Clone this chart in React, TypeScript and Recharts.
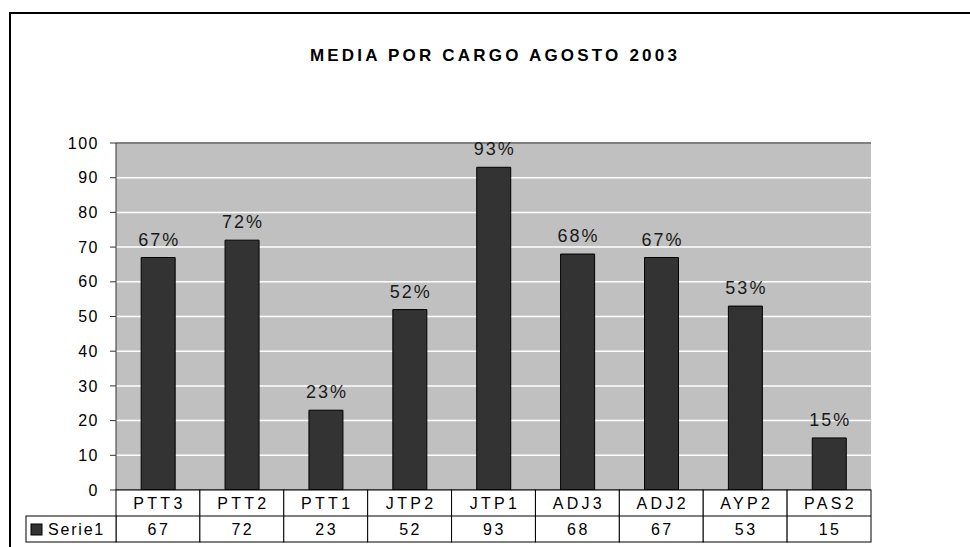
import {
  BarChart, Bar, XAxis, YAxis, CartesianGrid, LabelList, ReferenceLine,
} from 'recharts';

const categories = ['PTT3', 'PTT2', 'PTT1', 'JTP2', 'JTP1', 'ADJ3', 'ADJ2', 'AYP2', 'PAS2'];
const serie1 = [67, 72, 23, 52, 93, 68, 67, 53, 15];
const yTicks = [0, 10, 20, 30, 40, 50, 60, 70, 80, 90, 100];
const seriesName = 'Serie1';
const title = 'MEDIA POR CARGO AGOSTO 2003';

const W = 970;
const H = 547;
const PLOT_LEFT = 116;
const PLOT_RIGHT = 871;
const PLOT_TOP = 143;
const PLOT_BOTTOM = 490;
const ROW_H = 26;
const FONT = '"Liberation Sans", Arial, sans-serif';

const data = categories.map((name, i) => ({ name, value: serie1[i] }));
const band = (PLOT_RIGHT - PLOT_LEFT) / categories.length;

const TableTick = ({ x, payload, index }: any) => {
  const left = x - band / 2;
  const top = PLOT_BOTTOM;
  const i = index ?? categories.indexOf(payload.value);
  return (
    <g>
      <rect x={left} y={top} width={band} height={ROW_H * 2} fill="#fff" stroke="#000" strokeWidth={1} />
      <line x1={left} x2={left + band} y1={top + ROW_H} y2={top + ROW_H} stroke="#000" />
      <text x={x + 1.5} y={top + 19} textAnchor="middle" fontSize={16} letterSpacing={3.3} fill="#000" fontFamily={FONT}>
        {payload.value}
      </text>
      <text x={x + 1} y={top + ROW_H + 19} textAnchor="middle" fontSize={16} letterSpacing={2.5} fill="#000" fontFamily={FONT}>
        {serie1[i]}
      </text>
      {i === 0 && (
        <g>
          <rect x={26} y={top + ROW_H} width={PLOT_LEFT - 26} height={ROW_H} fill="#fff" stroke="#000" />
          <rect x={31} y={top + ROW_H + 8} width={11} height={11} fill="#333" stroke="#000" />
          <text x={48} y={top + ROW_H + 19} fontSize={16} letterSpacing={1.8} fill="#000" fontFamily={FONT}>
            {seriesName}
          </text>
        </g>
      )}
    </g>
  );
};

const PctLabel = ({ x, y, width, value }: any) => (
  <text x={x + width / 2 + 1} y={y - 12} textAnchor="middle" fontSize={18} letterSpacing={2} fill="#1a1a1a" fontFamily={FONT}>
    {`${value}%`}
  </text>
);

export default function App() {
  return (
    <div style={{ position: 'absolute', left: 0, top: 0, width: W, height: H, overflow: 'hidden', background: '#fff' }}>
      <div style={{ position: 'absolute', left: 9, top: 12, width: 1100, height: 700, borderLeft: '2px solid #000', borderTop: '2px solid #000' }} />
      <div style={{
        position: 'absolute', left: 10, width: W, top: 46, textAlign: 'center', lineHeight: '20px',
        fontFamily: FONT, fontWeight: 'bold', fontSize: 17, letterSpacing: 3.2, color: '#000',
      }}>
        {title}
      </div>
      <div style={{ position: 'absolute', left: 0, top: 0 }}>
        <BarChart
          width={W}
          height={H}
          data={data}
          margin={{ top: PLOT_TOP, right: W - PLOT_RIGHT, bottom: 0, left: 0 }}
          barCategoryGap="30%"
        >
          <CartesianGrid vertical={false} stroke="#fff" strokeWidth={1.5} fill="#c0c0c0" fillOpacity={1} />
          <XAxis
            dataKey="name"
            height={H - PLOT_BOTTOM}
            axisLine={{ stroke: '#000' }}
            tickLine={false}
            tick={<TableTick />}
            interval={0}
          />
          <YAxis
            width={PLOT_LEFT}
            domain={[0, 100]}
            ticks={yTicks}
            tickSize={6}
            tickMargin={11}
            axisLine={{ stroke: '#333' }}
            tickLine={{ stroke: '#333' }}
            tick={{ fontSize: 16, fill: '#000', fontFamily: FONT, letterSpacing: 1.5 }}
          />
          <YAxis
            yAxisId="r"
            orientation="right"
            width={0}
            domain={[0, 100]}
            tick={false}
            tickLine={false}
            axisLine={{ stroke: '#808080', strokeWidth: 2 }}
          />
          <ReferenceLine y={100} stroke="#808080" strokeWidth={2} />
          <Bar dataKey="value" fill="#333333" stroke="#000" strokeWidth={1} isAnimationActive={false}>
            <LabelList dataKey="value" content={<PctLabel />} />
          </Bar>
        </BarChart>
      </div>
    </div>
  );
}
